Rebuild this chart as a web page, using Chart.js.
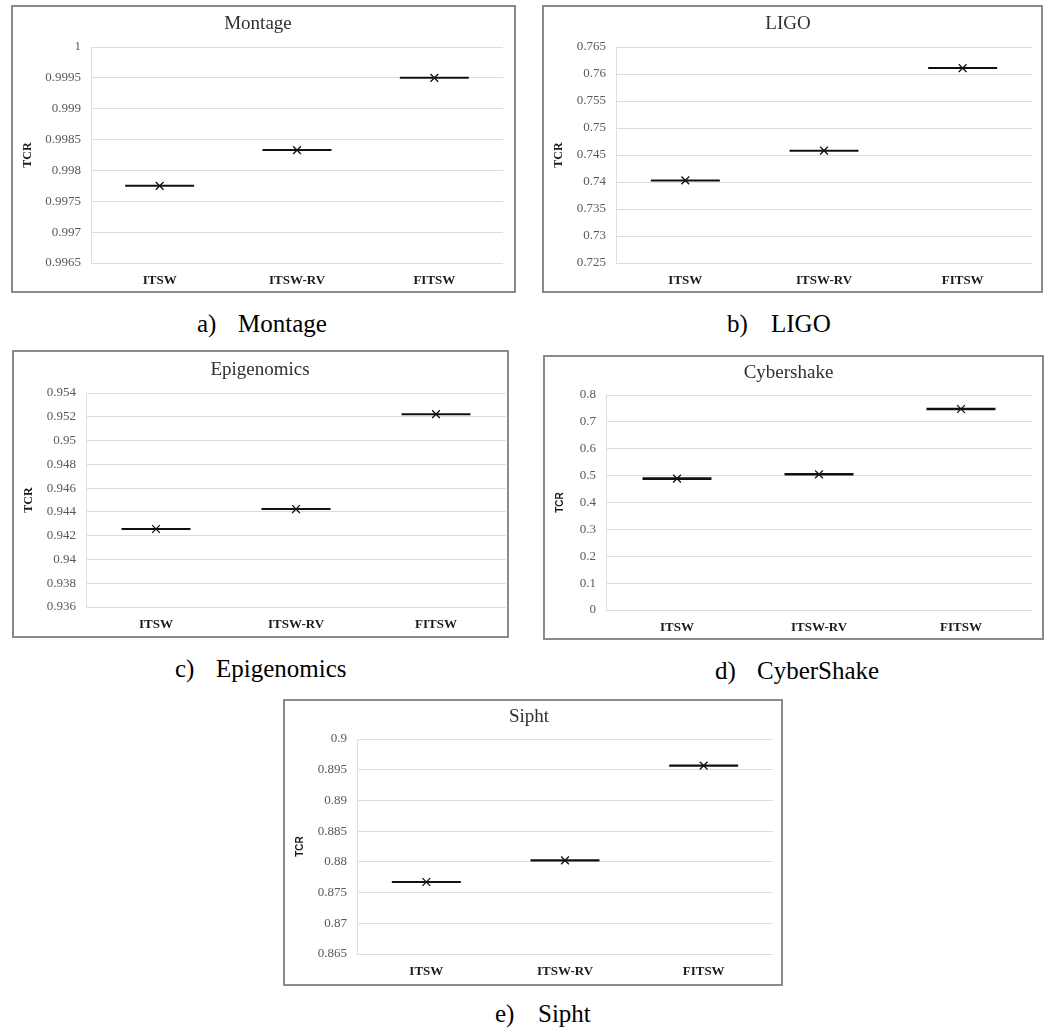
<!DOCTYPE html>
<html>
<head>
<meta charset="utf-8">
<script src="https://cdn.jsdelivr.net/npm/chart.js@4.4.1/dist/chart.umd.min.js"></script>
<style>
body { margin: 0; background: #fff; width: 1048px; height: 1028px; position: relative; overflow: hidden;
       font-family: "Liberation Serif", "Times New Roman", serif; }
.box { position: absolute; border: 2px solid #8a8a8a; box-sizing: border-box; background: #fff; }
.box canvas { display: block; }
.cap { position: absolute; font-size: 25px; line-height: 25px; color: #000; white-space: nowrap; }
.cap span { display: inline-block; }
</style>
</head>
<body>
<script>
// values
const categories = ['ITSW', 'ITSW-RV', 'FITSW'];
const montageTcr = [0.99775, 0.99833, 0.99950];
const ligoTcr = [0.7403, 0.7458, 0.7611];
const epigenomicsTcr = [0.94256, 0.94424, 0.95222];
const cybershakeTcr = [0.489, 0.505, 0.748];
const siphtTcr = [0.87672, 0.88025, 0.89566];

// y axis ranges: [min, max, step]
const montageRange = [0.9965, 1, 0.0005];
const ligoRange = [0.725, 0.765, 0.005];
const epigenomicsRange = [0.936, 0.954, 0.002];
const cybershakeRange = [0, 0.8, 0.1];
const siphtRange = [0.865, 0.9, 0.005];

const serif = '"Liberation Serif", "Times New Roman", serif';
const sans = '"Liberation Sans", Arial, sans-serif';

// layout of each panel: box [x, y, w, h], plot [l, t, r, b]
const panels = [
    { title: 'Montage', values: montageTcr, range: montageRange, box: [11, 5, 505, 288], plot: [91, 47, 503, 263],
      titleY: 24, tcrX: 28, tcrFont: { family: serif, size: 12, weight: 'bold' }, lw: 2 },
    { title: 'LIGO', values: ligoTcr, range: ligoRange, box: [542, 5, 501, 288], plot: [616, 47, 1032, 263],
      titleY: 24, tcrX: 559, tcrFont: { family: serif, size: 12, weight: 'bold' }, lw: 2 },
    { title: 'Epigenomics', values: epigenomicsTcr, range: epigenomicsRange, box: [12, 350, 497, 288], plot: [86, 393, 506, 607],
      titleY: 370, tcrX: 29, tcrFont: { family: serif, size: 12, weight: 'bold' }, lw: 2 },
    { title: 'Cybershake', values: cybershakeTcr, range: cybershakeRange, box: [543, 355, 501, 285], plot: [606, 395, 1032, 610],
      titleY: 373, tcrX: 560, tcrFont: { family: sans, size: 10, weight: 'bold' }, lw: 2.6 },
    { title: 'Sipht', values: siphtTcr, range: siphtRange, box: [283, 699, 500, 287], plot: [357, 739, 773, 954],
      titleY: 717, tcrX: 300, tcrFont: { family: sans, size: 10, weight: 'bold' }, lw: 2.2 }
];

const captions = [
    { tag: 'a)', name: 'Montage', x: 197, gap: 41, top: 311 },
    { tag: 'b)', name: 'LIGO', x: 727, gap: 44, top: 311 },
    { tag: 'c)', name: 'Epigenomics', x: 175, gap: 41, top: 656 },
    { tag: 'd)', name: 'CyberShake', x: 715, gap: 42, top: 658 },
    { tag: 'e)', name: 'Sipht', x: 495, gap: 43, top: 1001 }
];

function makePanel(p) {
    const box = document.createElement('div');
    box.className = 'box';
    box.style.left = p.box[0] + 'px';
    box.style.top = p.box[1] + 'px';
    box.style.width = p.box[2] + 'px';
    box.style.height = p.box[3] + 'px';
    const cx = p.box[0] + 2, cy = p.box[1] + 2;
    const cw = p.box[2] - 4, ch = p.box[3] - 4;
    const canvas = document.createElement('canvas');
    canvas.width = cw;
    canvas.height = ch;
    box.appendChild(canvas);
    document.body.appendChild(box);

    const yWidth = p.plot[0] - cx;
    const xHeight = cy + ch - p.plot[3];
    const titleHalf = 19 * 1.2 / 2;
    const tcrPad = p.tcrX - cx - p.tcrFont.size * 1.2 / 2;

    new Chart(canvas, {
        type: 'line',
        data: {
            labels: categories,
            datasets: [
                { data: p.values, showLine: false, pointStyle: 'line', pointRadius: 34.5,
                  pointBorderWidth: p.lw, pointBorderColor: '#111', borderColor: '#111' },
                { data: p.values, showLine: false, pointStyle: 'crossRot', pointRadius: 5.5,
                  pointBorderWidth: 1.3, pointBorderColor: '#111', borderColor: '#111' }
            ]
        },
        options: {
            responsive: false,
            animation: false,
            events: [],
            layout: { autoPadding: false, padding: { top: 0, left: 0, bottom: 0, right: cx + cw - p.plot[2] } },
            plugins: {
                legend: { display: false },
                tooltip: { enabled: false },
                title: {
                    display: true, text: p.title, color: '#303030',
                    font: { family: serif, size: 19, weight: 'normal', lineHeight: 1.2 },
                    padding: { top: p.titleY - titleHalf - cy, bottom: p.plot[1] - (p.titleY + titleHalf) }
                }
            },
            scales: {
                x: {
                    offset: true,
                    grid: { display: false },
                    border: { display: false },
                    ticks: { font: { family: serif, size: 13, weight: 'bold' }, color: '#1a1a1a', padding: 2, maxRotation: 0 },
                    afterFit: s => { s.height = xHeight; }
                },
                y: {
                    min: p.range[0], max: p.range[1],
                    ticks: {
                        stepSize: p.range[2],
                        font: { family: serif, size: 13 }, color: '#595959', padding: 10,
                        callback: v => String(parseFloat(v.toFixed(6)))
                    },
                    grid: { color: '#dedede', drawTicks: false },
                    border: { color: '#dedede' },
                    title: { display: true, text: 'TCR', color: '#1a1a1a', font: p.tcrFont, padding: { top: tcrPad, bottom: 0 } },
                    afterFit: s => { s.width = yWidth; }
                }
            }
        }
    });
}

panels.forEach(makePanel);

captions.forEach(c => {
    const d = document.createElement('div');
    d.className = 'cap';
    d.style.left = c.x + 'px';
    d.style.top = c.top + 'px';
    const a = document.createElement('span');
    a.style.width = c.gap + 'px';
    a.textContent = c.tag;
    const b = document.createElement('span');
    b.textContent = c.name;
    d.appendChild(a);
    d.appendChild(b);
    document.body.appendChild(d);
});
</script>
</body>
</html>
